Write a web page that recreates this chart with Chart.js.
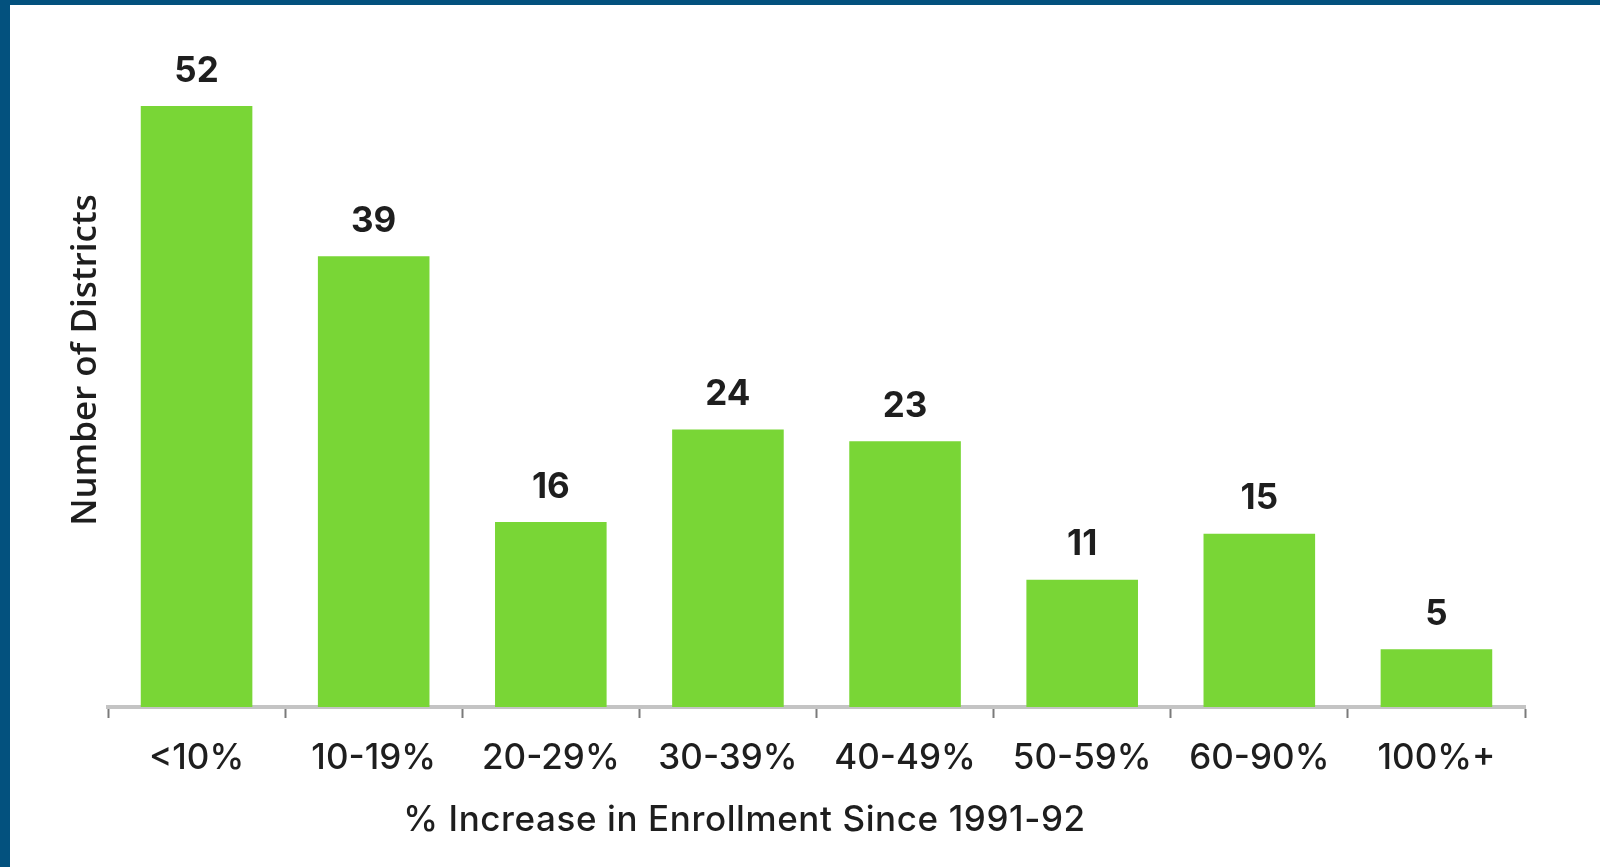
<!DOCTYPE html>
<html>
<head>
<meta charset="utf-8">
<script src="https://cdn.jsdelivr.net/npm/chart.js@4/dist/chart.umd.min.js"></script>
<style>
  html, body { margin: 0; padding: 0; background: #fff; }
  #frame {
    width: 1590px; height: 862px;
    border-top: 5px solid #03517e;
    border-left: 10px solid #03517e;
    background: #fff;
  }
  #chart { display: block; }
</style>
</head>
<body>
<div id="frame"><canvas id="chart" width="1590" height="862"></canvas></div>
<script>
// % increase buckets and number of districts in each
const categories = ['<10%', '10-19%', '20-29%', '30-39%', '40-49%', '50-59%', '60-90%', '100%+'];
const districts = [52, 39, 16, 24, 23, 11, 15, 5];
const xTitle = '% Increase in Enrollment Since 1991-92';
const yTitle = 'Number of Districts';

const BAR_GREEN = '#79d636';
const TEXT = '#1e1e1e';
const FONT = 'Inter, Lato, sans-serif';

// value labels above bars + the two axis titles
const labelsPlugin = {
    id: 'labels',
    afterDatasetsDraw: function (chart) {
        const ctx = chart.ctx;
        const meta = chart.getDatasetMeta(0);
        ctx.save();
        ctx.fillStyle = TEXT;
        ctx.textAlign = 'center';
        ctx.textBaseline = 'middle';
        ctx.font = '700 35px ' + FONT;
        meta.data.forEach(function (bar, i) {
            ctx.fillText(String(districts[i]), bar.x, bar.y - 35);
        });

        const area = chart.chartArea;
        ctx.font = '500 35px ' + FONT;
        ctx.letterSpacing = '0.6px';
        ctx.fillText(xTitle, (area.left + area.right) / 2 - 72, area.bottom + 113);
        ctx.letterSpacing = '0px';

        ctx.translate(area.left - 22, area.top + 254);
        ctx.rotate(-Math.PI / 2);
        ctx.font = '600 35px "Open Sans", sans-serif';
        ctx.fillText(yTitle, 0, 0);
        ctx.restore();
    }
};

new Chart(document.getElementById('chart'), {
    type: 'bar',
    data: {
        labels: categories,
        datasets: [{
            data: districts,
            backgroundColor: BAR_GREEN,
            borderWidth: 0,
            categoryPercentage: 0.63,
            barPercentage: 1.0
        }]
    },
    options: {
        responsive: false,
        animation: false,
        layout: { padding: { left: 98, right: 75, top: 101, bottom: 10 } },
        plugins: {
            legend: { display: false },
            tooltip: { enabled: false }
        },
        scales: {
            x: {
                grid: {
                    display: true,
                    offset: true,
                    drawOnChartArea: false,
                    drawTicks: true,
                    tickLength: 11,
                    tickWidth: 2,
                    tickColor: '#7a7a7a'
                },
                border: { display: true, color: '#c4c4c4', width: 4 },
                ticks: {
                    color: TEXT,
                    padding: 19,
                    font: { family: FONT, size: 35, weight: '500' }
                },
                afterFit: function (scale) { scale.height = 150; }
            },
            y: {
                display: false,
                min: 0,
                max: 52
            }
        }
    },
    plugins: [labelsPlugin]
});
</script>
</body>
</html>
